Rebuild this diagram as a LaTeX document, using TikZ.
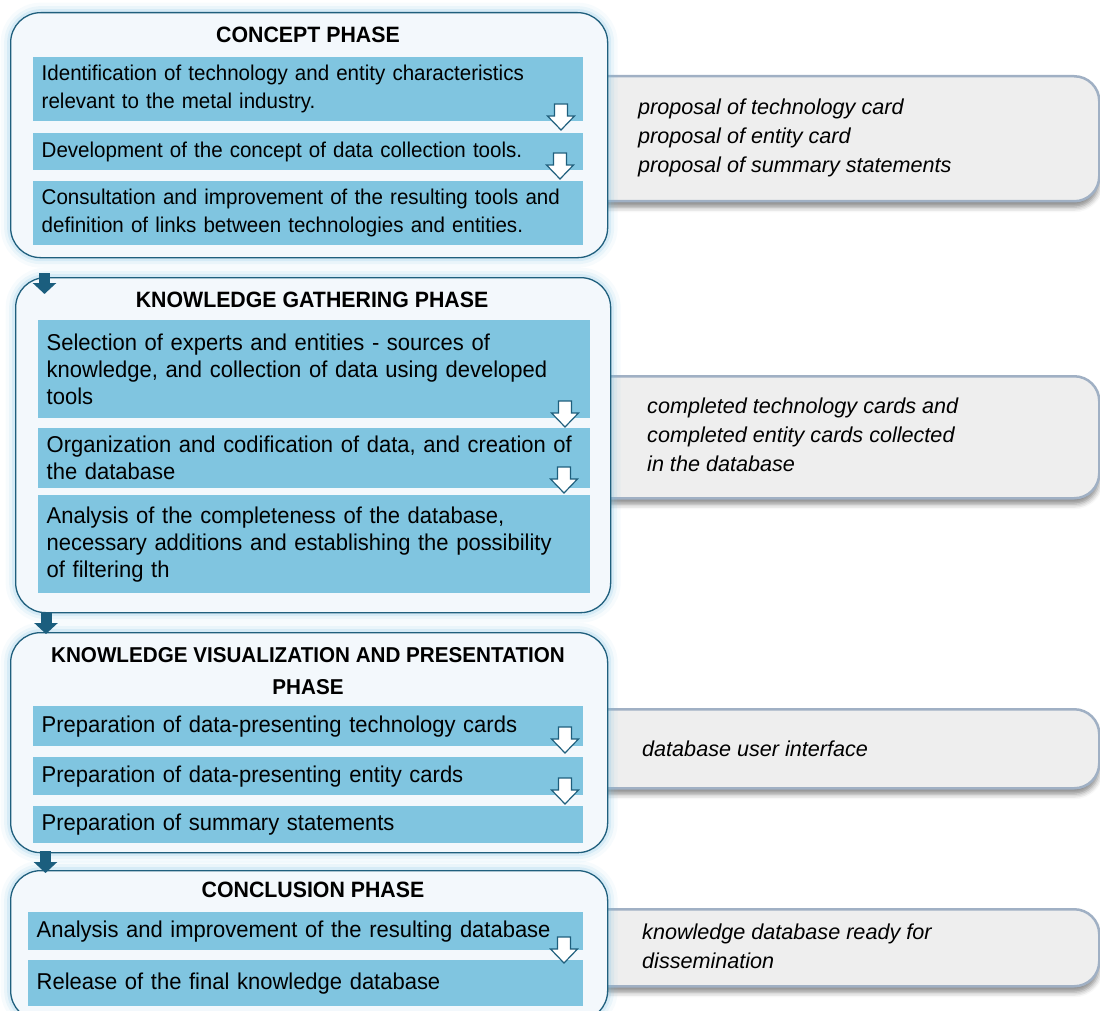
\documentclass[tikz,border=0pt]{standalone}
\usepackage{fontspec}
\setmainfont{Liberation Sans}
\newfontfamily\condfont[FakeStretch=0.96]{Liberation Sans}
\usetikzlibrary{arrows.meta,shadows.blur}
\definecolor{phaseborder}{RGB}{31,95,125}
\definecolor{phasefill}{RGB}{243,248,252}
\definecolor{glowc}{RGB}{120,190,225}
\definecolor{innerblue}{RGB}{128,197,224}
\definecolor{grayfill}{RGB}{238,238,238}
\definecolor{grayborder}{RGB}{160,176,196}
\definecolor{darkarrow}{RGB}{27,94,126}
\newcommand\bodyfont{\condfont\fontsize{21.4}{28}\selectfont}
\newcommand\bodyfontlg{\condfont\fontsize{22.9}{27}\selectfont}
\newcommand\wharrow[2]{\draw[wharrowst] (#1-6.5,#2) -- (#1+6.5,#2) -- (#1+6.5,#2+12) -- (#1+13.5,#2+12) -- (#1,#2+26) -- (#1-13.5,#2+12) -- (#1-6.5,#2+12) -- cycle;}
\tikzset{
  phase/.style={draw=phaseborder, line width=1.3pt, fill=phasefill, rounded corners=30pt,
    anchor=north west, inner sep=0pt,
    preaction={draw=glowc, line width=20pt, opacity=0.06},
    preaction={draw=glowc, line width=13pt, opacity=0.10},
    preaction={draw=glowc, line width=7pt, opacity=0.18}},
  innerbox/.style={fill=innerblue, anchor=north west, inner xsep=8.5pt, inner ysep=0pt,
    align=left, font=\bodyfont},
  innerlg/.style={innerbox, font=\bodyfontlg},
  graybox/.style={fill=grayfill, draw=grayborder, line width=2.5pt, rounded corners=25pt,
    anchor=north west, inner sep=0pt,
    blur shadow={shadow xshift=0pt, shadow yshift=-6pt, shadow blur radius=5pt, shadow opacity=45}},
  graytext/.style={anchor=west, align=left, inner sep=0pt, font=\itshape\fontsize{21.6}{29}\selectfont},
  title/.style={align=center, inner sep=0pt, font=\condfont\bfseries\fontsize{22.2}{32}\selectfont},
  titlesm/.style={title, font=\condfont\bfseries\fontsize{21.5}{32}\selectfont},
  wharrowst/.style={fill=white, draw=phaseborder, line width=1.2pt, line join=miter},
  phasearrow/.style={draw=darkarrow, line width=11pt, -{Triangle[width=23pt,length=11pt]}}
}
\begin{document}
\begin{tikzpicture}[x=1pt,y=-1pt]
\useasboundingbox (0,0) rectangle (1100,1011);
% gray output boxes
\node[graybox, minimum width=538pt, minimum height=125pt] (g1) at (560,75) {};
\node[graybox, minimum width=538pt, minimum height=122pt] (g2) at (560,375) {};
\node[graybox, minimum width=538pt, minimum height=79pt] (g3) at (560,708) {};
\node[graybox, minimum width=538pt, minimum height=77pt] (g4) at (560,908) {};
\node[graytext] (t1) at (638,138) {proposal of technology card\\proposal of entity card\\proposal of summary statements};
\node[graytext] (t2) at (647,435) {completed technology cards and\\completed entity cards collected\\in the database};
\node[graytext] (t3) at (642,749) {database user interface};
\node[graytext] (t4) at (642,946) {knowledge database ready for\\dissemination};
% phase boxes
\node[phase, minimum width=597pt, minimum height=245pt] (p1) at (10,12) {};
\node[phase, minimum width=595pt, minimum height=335pt] (p2) at (15,277) {};
\node[phase, minimum width=597pt, minimum height=220pt] (p3) at (10,632) {};
\node[phase, minimum width=597pt, minimum height=150pt] (p4) at (10,870) {};
% titles
\node[title] (h1) at (308,35) {CONCEPT PHASE};
\node[title] (h2) at (312,300) {KNOWLEDGE GATHERING PHASE};
\node[titlesm] (h3) at (308,671) {KNOWLEDGE VISUALIZATION AND PRESENTATION\\PHASE};
\node[title] (h4) at (313,890) {CONCLUSION PHASE};
% phase 1
\node[innerbox, text width=533pt, minimum height=64pt] (b11) at (33,57) {Identification of technology and entity characteristics\\relevant to the metal industry.};
\node[innerbox, text width=533pt, minimum height=37pt] (b12) at (33,133) {Development of the concept of data collection tools.};
\node[innerbox, text width=533pt, minimum height=64pt] (b13) at (33,181) {Consultation and improvement of the resulting tools and\\definition of links between technologies and entities.};
% phase 2
\node[innerlg, text width=535pt, minimum height=98pt] (b21) at (38,320) {Selection of experts and entities - sources of\\knowledge, and collection of data using developed\\tools};
\node[innerlg, text width=535pt, minimum height=60pt] (b22) at (38,428) {Organization and codification of data, and creation of\\the database};
\node[innerlg, text width=535pt, minimum height=98pt] (b23) at (38,495) {Analysis of the completeness of the database,\\necessary additions and establishing the possibility\\of filtering th};
% phase 3
\node[innerlg, text width=533pt, minimum height=40pt] (b31) at (33,706) {Preparation of data-presenting technology cards};
\node[innerlg, text width=533pt, minimum height=38pt] (b32) at (33,757) {Preparation of data-presenting entity cards};
\node[innerlg, text width=533pt, minimum height=37pt] (b33) at (33,806) {Preparation of summary statements};
% phase 4
\node[innerlg, text width=538pt, minimum height=38pt] (b41) at (28,912) {Analysis and improvement of the resulting database};
\node[innerlg, text width=538pt, minimum height=46pt] (b42) at (28,960) {Release of the final knowledge database};
% white step arrows
\wharrow{561}{104}
\wharrow{560}{153}
\wharrow{565}{401}
\wharrow{564}{467}
\wharrow{565}{727}
\wharrow{565}{778}
\wharrow{564}{937}
% phase arrows
\draw[phasearrow] ([xshift=34.5pt,yshift=-15pt]p1.south west) -- ([xshift=29.5pt,yshift=-17pt]p2.north west);
\draw[phasearrow] ([xshift=31pt,yshift=0pt]p2.south west) -- ([xshift=36pt,yshift=-2pt]p3.north west);
\draw[phasearrow] ([xshift=35.5pt,yshift=2pt]p3.south west) -- ([xshift=35.5pt,yshift=-3pt]p4.north west);
\end{tikzpicture}
\end{document}
